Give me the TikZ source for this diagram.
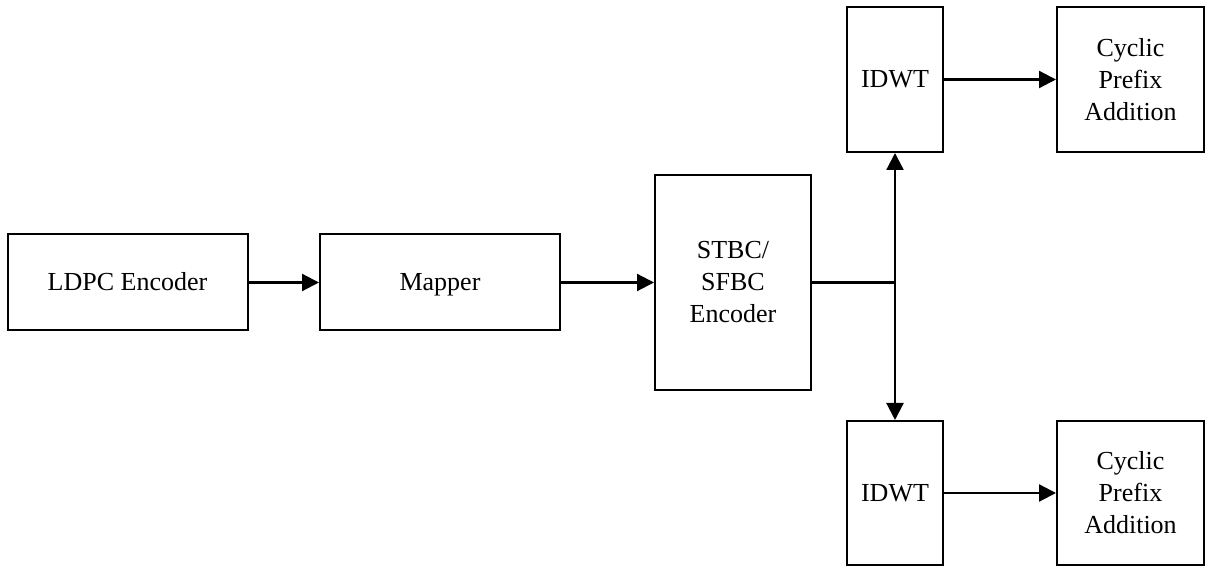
\documentclass[tikz,border=0pt]{standalone}
\usepackage{fontspec}
\setmainfont{Liberation Serif}
\usetikzlibrary{arrows.meta}
\tikzset{
  blk/.style={draw=black, line width=2pt, fill=white, inner sep=0pt, align=center,
    font=\fontsize{26}{32}\selectfont},
  oneline/.style={text height=17pt, text depth=0pt},
  conn/.style={line width=2.2pt, -{Triangle[length=17pt,width=17pt]}},
  plain/.style={line width=2.2pt}
}
\begin{document}
\begin{tikzpicture}[x=1pt,y=1pt]
\useasboundingbox (0,0) rectangle (1211,567);
\node[blk, oneline, minimum width=240pt, minimum height=96pt] (ldpc) at (127.5,284.5) {LDPC Encoder};
\node[blk, oneline, minimum width=240pt, minimum height=96pt] (map) at (440,284.5) {Mapper};
\node[blk, minimum width=156pt, minimum height=215pt] (stbc) at (733,284.5) {STBC/\\SFBC\\Encoder};
\node[blk, oneline, minimum width=96pt, minimum height=145pt] (idt) at (895,487.5) {IDWT};
\node[blk, minimum width=147pt, minimum height=145pt] (cpt) at (1130.5,487.5) {Cyclic\\Prefix\\Addition};
\node[blk, oneline, minimum width=96pt, minimum height=144pt] (idb) at (895,74) {IDWT};
\node[blk, minimum width=147pt, minimum height=144pt] (cpb) at (1130.5,74) {Cyclic\\Prefix\\Addition};
\coordinate (j) at (idt.south |- stbc.east);
\draw[conn] (ldpc) -- (map);
\draw[conn] (map) -- (stbc);
\draw[plain] (stbc.east) -- (j);
\draw[conn] (j) -- (idt.south);
\draw[conn] (j) -- (idb.north);
\draw[conn] (idt) -- (cpt);
\draw[conn] (idb) -- (cpb);
\end{tikzpicture}
\end{document}
